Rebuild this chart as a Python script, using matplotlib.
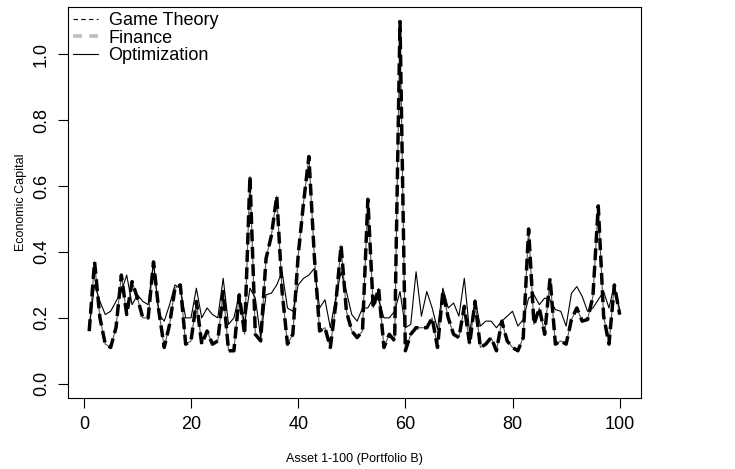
import numpy as np
import matplotlib
matplotlib.use("Agg")
import matplotlib.pyplot as plt
from matplotlib.lines import Line2D

plt.rcParams['font.family'] = ['Liberation Sans', 'DejaVu Sans']

assets = np.arange(1, 101)

game_theory = [
    0.16, 0.37, 0.20, 0.12, 0.11, 0.17, 0.33, 0.21, 0.31, 0.26,
    0.20, 0.20, 0.37, 0.22, 0.11, 0.18, 0.29, 0.30, 0.12, 0.13,
    0.25, 0.12, 0.16, 0.12, 0.13, 0.28, 0.10, 0.10, 0.27, 0.15,
    0.63, 0.15, 0.13, 0.38, 0.45, 0.57, 0.28, 0.12, 0.15, 0.39,
    0.55, 0.69, 0.39, 0.16, 0.17, 0.11, 0.24, 0.42, 0.22, 0.16,
    0.14, 0.16, 0.56, 0.23, 0.29, 0.11, 0.15, 0.13, 1.10, 0.10,
    0.15, 0.17, 0.17, 0.17, 0.20, 0.11, 0.28, 0.20, 0.15, 0.14,
    0.235, 0.12, 0.25, 0.11, 0.12, 0.14, 0.10, 0.19, 0.13, 0.11,
    0.10, 0.14, 0.47, 0.18, 0.23, 0.15, 0.32, 0.12, 0.13, 0.12,
    0.195, 0.23, 0.19, 0.195, 0.265, 0.54, 0.205, 0.12, 0.30, 0.21,
]

# finance sits on top of game theory in the picture
finance = list(game_theory)

optimization = [
    0.17, 0.30, 0.25, 0.21, 0.22, 0.25, 0.28, 0.33, 0.24, 0.27,
    0.25, 0.24, 0.37, 0.21, 0.19, 0.24, 0.30, 0.29, 0.20, 0.20,
    0.29, 0.20, 0.23, 0.21, 0.20, 0.32, 0.18, 0.20, 0.27, 0.18,
    0.29, 0.26, 0.14, 0.27, 0.275, 0.30, 0.34, 0.23, 0.22, 0.30,
    0.32, 0.33, 0.35, 0.23, 0.255, 0.17, 0.26, 0.34, 0.28, 0.21,
    0.19, 0.23, 0.23, 0.26, 0.255, 0.20, 0.20, 0.22, 0.28, 0.17,
    0.18, 0.34, 0.205, 0.28, 0.23, 0.165, 0.29, 0.23, 0.245, 0.205,
    0.32, 0.155, 0.255, 0.175, 0.19, 0.19, 0.17, 0.19, 0.205, 0.22,
    0.175, 0.195, 0.26, 0.27, 0.24, 0.26, 0.255, 0.225, 0.22, 0.175,
    0.275, 0.295, 0.265, 0.22, 0.23, 0.255, 0.28, 0.23, 0.30, 0.225,
]

fig = plt.figure(figsize=(7.35, 4.69), dpi=100)
ax = fig.add_axes([0.0925, 0.151, 0.872 - 0.0925, 0.985 - 0.151])

ax.plot(assets, finance, color='#555555', lw=0.8)
ax.plot(assets, game_theory, color='black', lw=2.5, linestyle=(0, (3.4, 1.6)))
ax.plot(assets, optimization, color='black', lw=0.8)

# R style 4% padding
xr = assets.max() - assets.min()
ax.set_xlim(assets.min() - 0.04 * xr, assets.max() + 0.04 * xr)
ymax = max(max(game_theory), max(finance), max(optimization))
ax.set_ylim(-0.04 * ymax, ymax * 1.04)

ax.set_xticks([0, 20, 40, 60, 80, 100])
ax.set_yticks([0.0, 0.2, 0.4, 0.6, 0.8, 1.0])
ax.set_yticklabels(['0.0', '0.2', '0.4', '0.6', '0.8', '1.0'], rotation=90, va='center')
ax.tick_params(direction='out', length=7, width=0.8, labelsize=13, pad=6)
for s in ax.spines.values():
    s.set_linewidth(0.8)

ax.set_xlabel('Asset 1-100 (Portfolio B)', fontsize=9, labelpad=14)
ax.set_ylabel('Economic Capital', fontsize=9, labelpad=4)

handles = [
    Line2D([], [], color='black', lw=0.8, linestyle=(0, (4, 3))),
    Line2D([], [], color='#bebebe', lw=2.6, linestyle=(0, (2.5, 2))),
    Line2D([], [], color='black', lw=0.8),
]
ax.legend(handles, ['Game Theory', 'Finance', 'Optimization'], loc='upper left',
          frameon=False, fontsize=13, handlelength=1.35, handletextpad=0.6,
          labelspacing=0.02, borderaxespad=0.0, borderpad=0.3)

fig.savefig('out.png', dpi=100)
